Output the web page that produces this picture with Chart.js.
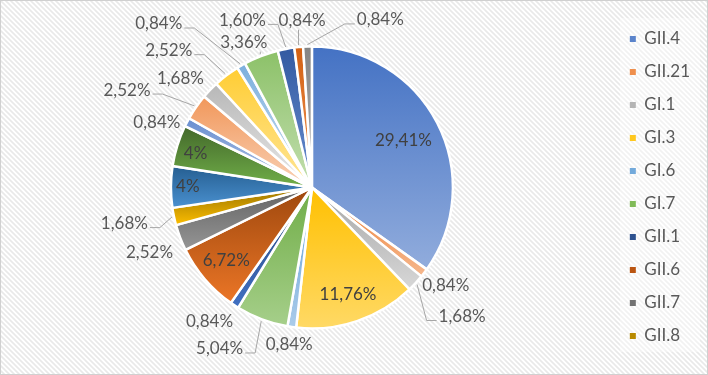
<!DOCTYPE html>
<html>
<head>
<meta charset="utf-8">
<script src="https://cdn.jsdelivr.net/npm/chart.js@4.4.1/dist/chart.umd.min.js"></script>
<style>
  html, body { margin: 0; padding: 0; background: #fff; }
  #wrap { width: 708px; height: 375px; }
</style>
</head>
<body>
<div id="wrap"><canvas id="genoChart" width="708" height="375"></canvas></div>
<script>
// genotypes in slice order (only the first ten are named in the legend)
const genotypes = ['GII.4', 'GII.21', 'GI.1', 'GI.3', 'GI.6', 'GI.7', 'GII.1', 'GII.6', 'GII.7', 'GII.8',
  '', '', '', '', '', '', '', '', '', '', ''];
// percentages as printed on the slices
const shares = [29.41, 0.84, 1.68, 11.76, 0.84, 5.04, 0.84, 6.72, 2.52, 1.68,
  4, 4, 0.84, 2.52, 1.68, 2.52, 0.84, 3.36, 1.60, 0.84, 0.84];
const legendCount = 10;

// office palette, one per slice
const sliceColors = ['#4472C4', '#ED7D31', '#A5A5A5', '#FFC000', '#5B9BD5', '#70AD47', '#264478',
  '#9E480E', '#636363', '#997300', '#255E91', '#43682B', '#698ED0', '#F1975A', '#B7B7B7',
  '#FFCD33', '#7CAFDD', '#8CC168', '#335AA1', '#D26012', '#848484'];

// where each value label goes: inside (fraction of radius) or outside (gap px, angle shift deg)
const labelPlacement = [
  {inside: 0.73}, {gap: 25, da: -1}, {gap: 57, da: -2, leader: true}, {inside: 0.80},
  {gap: 18, da: 0}, {gap: 45, da: 9, leader: true}, {gap: 28, da: 4}, {inside: 0.80},
  {gap: 34, da: -1}, {gap: 50, da: 1, leader: true}, {inside: 0.88}, {inside: 0.86, da: -1},
  {gap: 27, da: -5}, {gap: 68, da: -7, leader: true}, {gap: 30, da: -4}, {gap: 57, da: -9, leader: true},
  {gap: 83, da: -13, leader: true}, {gap: 19, da: -4, leader: true}, {gap: 40, da: -12, leader: true},
  {gap: 26, da: 2, leader: true}, {gap: 40, da: 24, leader: true}
];

const pieRadius = 141;
const fontFamily = 'Lato, "Open Sans", sans-serif';

function toHsl(hex) {
  const r = parseInt(hex.slice(1, 3), 16) / 255, g = parseInt(hex.slice(3, 5), 16) / 255, b = parseInt(hex.slice(5, 7), 16) / 255;
  const max = Math.max(r, g, b), min = Math.min(r, g, b);
  let h = 0, s = 0;
  const l = (max + min) / 2;
  if (max !== min) {
    const d = max - min;
    s = l > 0.5 ? d / (2 - max - min) : d / (max + min);
    if (max === r) h = (g - b) / d + (g < b ? 6 : 0);
    else if (max === g) h = (b - r) / d + 2;
    else h = (r - g) / d + 4;
    h *= 60;
  }
  return [h, s * 100, l * 100];
}
function lighter(hex, amount) {
  const [h, s, l] = toHsl(hex);
  return 'hsl(' + h.toFixed(1) + ',' + s.toFixed(1) + '%,' + Math.min(l + amount, 92).toFixed(1) + '%)';
}
function fmt(v) {
  return (Number.isInteger(v) ? String(v) : v.toFixed(2).replace('.', ',')) + '%';
}

// vertical gradient across each slice: base colour on top, lighter at the bottom
function sliceFill(context) {
  const chart = context.chart;
  const area = chart.chartArea;
  const i = context.dataIndex;
  if (!area || i === undefined) return sliceColors[i];
  const cx = (area.left + area.right) / 2, cy = (area.top + area.bottom) / 2;
  const total = shares.reduce((a, b) => a + b, 0);
  let a0 = -Math.PI / 2;
  for (let k = 0; k < i; k++) a0 += shares[k] / total * Math.PI * 2;
  const a1 = a0 + shares[i] / total * Math.PI * 2;
  const ys = [cy, cy + pieRadius * Math.sin(a0), cy + pieRadius * Math.sin(a1)];
  if (a0 < Math.PI / 2 && a1 > Math.PI / 2) ys.push(cy + pieRadius);
  const top = Math.min(...ys), bottom = Math.max(...ys);
  const g = chart.ctx.createLinearGradient(0, top, 0, bottom + 1);
  g.addColorStop(0, sliceColors[i]);
  g.addColorStop(1, lighter(sliceColors[i], 20));
  return g;
}

const backdrop = {
  id: 'backdrop',
  beforeDraw(chart) {
    const {ctx, width, height} = chart;
    const tile = document.createElement('canvas');
    tile.width = 5; tile.height = 5;
    const t = tile.getContext('2d');
    t.fillStyle = '#ffffff'; t.fillRect(0, 0, 5, 5);
    t.strokeStyle = '#e9e9e9'; t.lineWidth = 1.6;
    t.beginPath();
    t.moveTo(-1, -1); t.lineTo(6, 6);
    t.moveTo(-1, 4); t.lineTo(1, 6);
    t.moveTo(4, -1); t.lineTo(6, 1);
    t.stroke();
    ctx.save();
    ctx.fillStyle = ctx.createPattern(tile, 'repeat');
    ctx.fillRect(0, 0, width, height);
    const lg = chart.legend;
    ctx.fillStyle = 'rgba(255,255,255,0.4)';
    ctx.fillRect(lg.left + 6, 18, lg.right - lg.left - 6, 334);
    ctx.strokeStyle = '#d0d0d0'; ctx.lineWidth = 1;
    ctx.strokeRect(0.5, 0.5, width - 1, height - 1);
    ctx.restore();
  }
};

const valueLabels = {
  id: 'valueLabels',
  afterDatasetsDraw(chart) {
    const ctx = chart.ctx;
    const meta = chart.getDatasetMeta(0);
    ctx.save();
    ctx.font = '17px ' + fontFamily;
    ctx.textBaseline = 'middle';
    ctx.textAlign = 'center';
    meta.data.forEach((arc, i) => {
      const p = arc.getProps(['x', 'y', 'startAngle', 'endAngle', 'outerRadius'], true);
      const place = labelPlacement[i];
      const text = fmt(shares[i]);
      const mid = (p.startAngle + p.endAngle) / 2;
      const ang = mid + (place.da || 0) * Math.PI / 180;
      const dist = place.inside !== undefined ? p.outerRadius * place.inside : p.outerRadius + place.gap;
      const lx = p.x + Math.cos(ang) * dist, ly = p.y + Math.sin(ang) * dist;
      if (place.leader) {
        const w = ctx.measureText(text).width;
        const x0 = p.x + Math.cos(mid) * (p.outerRadius + 2), y0 = p.y + Math.sin(mid) * (p.outerRadius + 2);
        ctx.strokeStyle = '#a6a6a6'; ctx.lineWidth = 1;
        ctx.beginPath();
        ctx.moveTo(x0, y0);
        if (Math.abs(lx - x0) < w / 2) {
          ctx.lineTo(x0, ly + 9);
        } else if (lx < x0) {
          const sx = lx + w / 2 + 2;
          ctx.lineTo(sx + 10, ly + 4); ctx.lineTo(sx, ly + 4);
        } else {
          const sx = lx - w / 2 - 2;
          ctx.lineTo(sx - 10, ly + 4); ctx.lineTo(sx, ly + 4);
        }
        ctx.stroke();
      }
      ctx.fillStyle = place.inside !== undefined ? '#404040' : '#595959';
      ctx.fillText(text, lx, ly);
    });
    ctx.restore();
  }
};

Chart.defaults.font.family = fontFamily;

const pieCtx = document.getElementById('genoChart').getContext('2d');
new Chart(pieCtx, {
  type: 'pie',
  data: {
    labels: genotypes,
    datasets: [{
      data: shares,
      backgroundColor: sliceFill,
      borderColor: '#ffffff',
      borderWidth: 2.5,
      radius: pieRadius
    }]
  },
  options: {
    responsive: false,
    animation: false,
    devicePixelRatio: 1,
    layout: { padding: { left: 10, right: 8, top: 0, bottom: 0 } },
    plugins: {
      tooltip: { enabled: false },
      legend: {
        position: 'right',
        labels: {
          color: '#595959',
          font: { size: 17 },
          boxWidth: 6,
          boxHeight: 6,
          padding: 16,
          filter: (item) => item.index < legendCount,
          generateLabels(chart) {
            return genotypes.map((name, i) => ({
              text: name,
              fillStyle: lighter(sliceColors[i], 6),
              strokeStyle: lighter(sliceColors[i], 6),
              lineWidth: 0,
              hidden: false,
              index: i,
              fontColor: '#595959'
            }));
          }
        }
      }
    }
  },
  plugins: [backdrop, valueLabels]
});
</script>
</body>
</html>
